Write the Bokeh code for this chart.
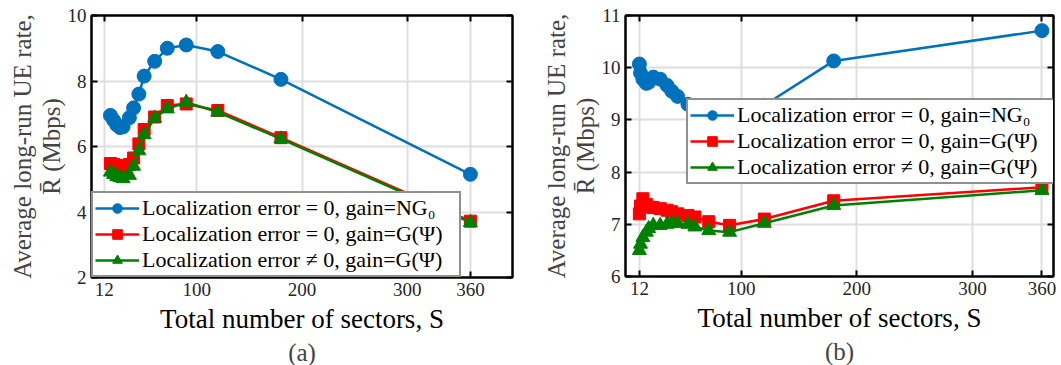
from bokeh.plotting import figure
from bokeh.models import FixedTicker, LinearAxis, Title, Range1d, Legend, LegendItem
from bokeh.layouts import row
from bokeh.embed import file_html
from bokeh.resources import INLINE

# ---------------- data ----------------
x_a = [18, 21, 24, 27, 30, 36, 40, 45, 50, 60, 72, 90, 120, 180, 360]
blue_a = [6.95, 6.80, 6.66, 6.58, 6.60, 6.88, 7.18, 7.60, 8.15, 8.60, 9.00, 9.10, 8.90, 8.05, 5.15]
red_a = [5.48, 5.45, 5.42, 5.36, 5.38, 5.45, 5.65, 6.08, 6.52, 6.90, 7.25, 7.30, 7.10, 6.27, 3.72]
green_a = [5.22, 5.15, 5.08, 5.05, 5.02, 5.12, 5.40, 5.87, 6.36, 6.87, 7.15, 7.35, 7.05, 6.23, 3.68]

x_b = [12, 13, 15, 18, 20, 24, 30, 36, 40, 45, 54, 60, 72, 90, 120, 180, 360]
blue_b = [10.07, 9.90, 9.78, 9.70, 9.72, 9.82, 9.78, 9.66, 9.55, 9.45, 9.30, 9.20, 9.10, 9.05, 9.28, 10.13, 10.71]
red_b = [7.20, 7.35, 7.49, 7.38, 7.33, 7.32, 7.30, 7.27, 7.24, 7.20, 7.17, 7.14, 7.05, 6.98, 7.10, 7.45, 7.71]
green_b = [6.50, 6.62, 6.75, 6.85, 6.92, 6.98, 6.98, 7.00, 7.02, 7.02, 7.00, 6.95, 6.88, 6.85, 7.02, 7.36, 7.65]

x_ticks = [12, 100, 200, 300, 360]
y_ticks_a = [2, 4, 6, 8, 10]
y_ticks_b = [6, 7, 8, 9, 10, 11]

labels = ["Localization error = 0, gain=NG\u2080",
          "Localization error = 0, gain=G(\u03a8)",
          "Localization error \u2260 0, gain=G(\u03a8)"]

FONT = "'Liberation Serif', serif"
BLUE, RED, GREEN = "#0072BD", "#FF0000", "#008000"


def make(xs, blue, red, green, xend, yr, yticks, fw, fh, bl, br, sub, legend_loc):
    p = figure(frame_width=fw, frame_height=fh, min_border_left=bl, min_border_right=br,
               min_border_top=15, min_border_bottom=365 - 15 - fh,
               x_range=Range1d(0, xend), y_range=Range1d(*yr),
               output_backend="svg", toolbar_location=None)
    p.outline_line_color = "black"
    p.outline_line_width = 2
    p.background_fill_color = "white"
    p.border_fill_color = "white"

    for ax in (p.xaxis[0], p.yaxis[0]):
        ax.major_label_text_font = FONT
        ax.major_label_text_font_size = "19px"
        ax.major_label_text_color = "#262626"
        ax.axis_line_width = 2
        ax.axis_line_color = "black"
        ax.major_tick_in = 6
        ax.major_tick_out = 0
        ax.major_tick_line_width = 2
        ax.minor_tick_line_color = None
        ax.axis_label_text_font = FONT
        ax.axis_label_text_font_size = "27px"
        ax.axis_label_text_font_style = "normal"
        ax.axis_label_text_color = "black"
    p.xaxis[0].ticker = FixedTicker(ticks=x_ticks)
    p.yaxis[0].ticker = FixedTicker(ticks=yticks)
    p.xaxis[0].major_label_standoff = 5
    p.yaxis[0].major_label_standoff = 5
    p.xaxis[0].axis_label = "Total number of sectors, S"
    p.xaxis[0].axis_label_standoff = 5

    # mirrored axes (box with inward ticks)
    for side, tk in (("right", yticks), ("above", x_ticks)):
        a = LinearAxis(ticker=FixedTicker(ticks=tk), major_label_text_font_size="1px",
                       major_label_text_color=None,
                       major_label_standoff=0, axis_line_width=2, major_tick_in=6,
                       major_tick_out=0, major_tick_line_width=2, minor_tick_line_color=None)
        p.add_layout(a, side)

    p.xgrid.ticker = FixedTicker(ticks=x_ticks)
    p.ygrid.ticker = FixedTicker(ticks=yticks)
    for g in (p.xgrid[0], p.ygrid[0]):
        g.grid_line_color = "#dedede"
        g.grid_line_width = 2

    p.add_layout(Title(text="R\u0304 (Mbps)", align="center", text_font=FONT,
                       text_font_size="25px", text_font_style="normal", standoff=0), "left")
    p.add_layout(Title(text="Average long-run UE rate,", align="center", text_font=FONT,
                       text_font_size="25px", text_font_style="normal", standoff=0), "left")
    p.add_layout(Title(text=sub, align="center", text_font=FONT,
                       text_font_size="25px", text_font_style="normal", standoff=0), "below")

    items = []
    for ys, col, marker, size, lab in ((blue, BLUE, "circle", 14, labels[0]),
                                       (red, RED, "square", 12, labels[1]),
                                       (green, GREEN, "triangle", 14, labels[2])):
        l = p.line(xs, ys, line_color=col, line_width=2.5)
        s = p.scatter(xs, ys, marker=marker, size=size, fill_color=col, line_color=col)
        items.append(LegendItem(label=lab, renderers=[l, s]))

    leg = Legend(items=items, location=legend_loc, margin=0, padding=2, spacing=0,
                 label_text_font=FONT, label_text_font_size="22px", label_text_color="black",
                 glyph_width=44, glyph_height=24, label_height=24, label_standoff=3,
                 label_width=315,
                 border_line_color="#222222", border_line_width=2.5,
                 background_fill_color="white", background_fill_alpha=1.0)
    p.add_layout(leg)
    return p


pa = make(x_a, blue_a, red_a, green_a, 400, (2, 10), y_ticks_a, 421, 262, 91, 22, "(a)", "bottom_left")
pb = make(x_b, blue_b, red_b, green_b, 370, (6, 11), y_ticks_b, 428, 261, 91, 8, "(b)", (61, 92))

layout = row(pa, pb)
open("out.html", "w").write(file_html(layout, INLINE))
